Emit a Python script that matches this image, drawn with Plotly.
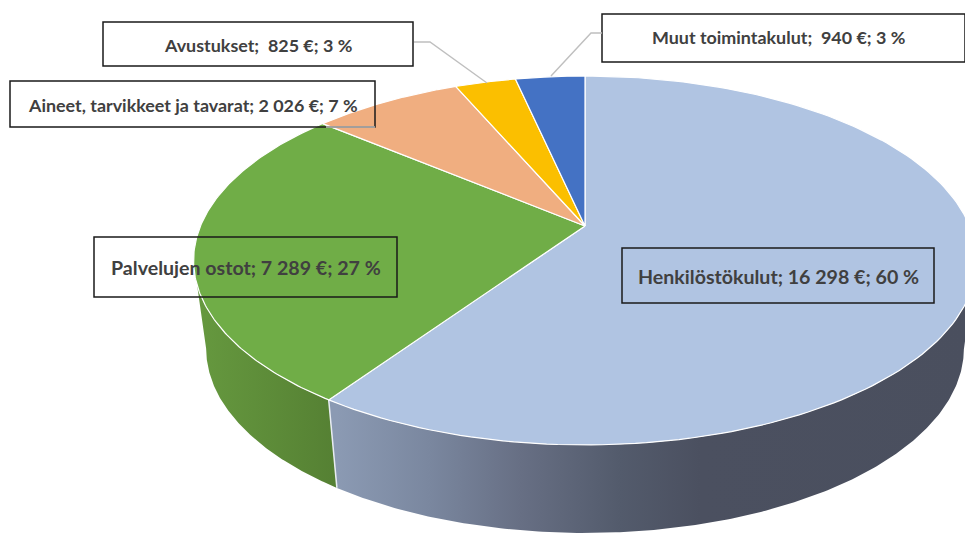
import numpy as np
import plotly.graph_objects as go

names = ["Henkilöstökulut", "Palvelujen ostot", "Aineet, tarvikkeet ja tavarat", "Avustukset", "Muut toimintakulut"]
values = [16298, 7289, 2026, 825, 940]
percents = [60, 27, 7, 3, 3]
colors = ["#B0C4E2", "#70AD47", "#F0AE80", "#FBBF00", "#4472C4"]
label_texts = [
    "Henkilöstökulut; 16 298 €; 60 %",
    "Palvelujen ostot; 7 289 €; 27 %",
    "Aineet, tarvikkeet ja tavarat; 2 026 €; 7 %",
    "Avustukset;\u00a0 825 €; 3 %",
    "Muut toimintakulut;\u00a0 940 €; 3 %",
]
label_sizes = [19.6, 19.6, 17.9, 17.9, 17.9]
# label boxes: x0, y0, x1, y1
boxes = [(622, 248, 934, 303), (94, 237, 397, 297), (10, 81, 375, 127), (103, 22, 413, 66), (602, 14, 965, 62)]
text_centers = [(778, 276), (246, 267), (193, 105), (258, 45), (778, 37)]
leaders = [None, None, [(375, 127), (326, 127)], [(414, 42), (430, 42), (487, 83)], [(602, 33), (591, 33), (551, 76)]]
side_stops = {
    0: ([337, 430, 520, 620, 700, 976], ["#8B9AB3", "#7A879F", "#676F84", "#535B6C", "#4B5060", "#4A4F5E"]),
    1: ([195, 337], ["#66993F", "#558033"]),
}

CX, CY, B, A, P = 585.0, 226.0, 384.5, 178.0, 0.187
DEPTH, SHRINK = 88.0, 0.968


def top(theta):
    u, v = np.sin(theta), np.cos(theta)
    d = 1 + P * v
    return CX + B * u / d, CY - A * v / d


def bottom(theta):
    x, y = top(theta)
    return CX + SHRINK * (x - CX), y + DEPTH


fractions = np.cumsum([0] + values) / sum(values)
angles = 2 * np.pi * fractions
fig = go.Figure()

# side walls, each one polygon with a horizontal gradient, trimmed at the silhouette
for i in (0, 1):
    a0, a1 = angles[i], angles[i + 1]
    ts = np.linspace(a0, a1, 400)
    xt, yt = top(ts)
    xb, yb = bottom(ts)
    if i == 0:  # Right silhouette: keep from the rightmost point onward
        k = int(np.argmax(xt))
        xt, yt, xb, yb = xt[k:], yt[k:], xb[k:], yb[k:]
    else:  # Left silhouette: keep up to the leftmost point
        k = int(np.argmin(xt)) + 1
        xt, yt, xb, yb = xt[:k], yt[:k], xb[:k], yb[:k]
    px = np.r_[xt, xb[::-1], xt[0]]
    py = np.r_[yt, yb[::-1], yt[0]]
    lo, hi = px.min(), px.max()
    sx, sc = side_stops[i]
    scale = [[0.0, sc[0]]]
    for x, c in zip(sx, sc):
        f = float(np.clip((x - lo) / (hi - lo), 0, 1))
        if f > scale[-1][0]:
            scale.append([f, c])
    if scale[-1][0] < 1:
        scale.append([1.0, sc[-1]])
    fig.add_trace(go.Scatter(x=px, y=py, mode="lines", fill="toself",
                             fillgradient=dict(type="horizontal", colorscale=scale),
                             line=dict(width=0), hoverinfo="skip", showlegend=False))

# pale seam between the two wall slices
xa, ya = top(angles[1]); xb, yb = bottom(angles[1])
fig.add_trace(go.Scatter(x=[xa, xb], y=[ya, yb], mode="lines", line=dict(color="#E8ECF2", width=1.5),
                         hoverinfo="skip", showlegend=False))

# top face slices
for i, name in enumerate(names):
    ts = np.linspace(angles[i], angles[i + 1], 160)
    xs, ys = top(ts)
    fig.add_trace(go.Scatter(x=[CX, *xs, CX], y=[CY, *ys, CY], mode="lines", fill="toself",
                             fillcolor=colors[i], line=dict(color="white", width=1.2),
                             name=name, hoverinfo="skip", showlegend=False))

shapes = []
for (x0, y0, x1, y1) in boxes:
    shapes.append(dict(type="rect", x0=x0, y0=y0, x1=x1, y1=y1, xref="x", yref="y",
                       line=dict(color="#1A1A1A", width=1.5), fillcolor="rgba(0,0,0,0)"))
for leader in leaders:
    if leader:
        path = "M " + " L ".join(f"{x} {y}" for x, y in leader)
        shapes.append(dict(type="path", path=path, xref="x", yref="y", line=dict(color="#BFBFBF", width=1.4)))

annotations = [dict(x=x, y=y, xref="x", yref="y", text=f"<b>{t}</b>", showarrow=False,
                    font=dict(family="Lato", size=s, color="#404040"),
                    xanchor="center", yanchor="middle")
               for t, s, (x, y) in zip(label_texts, label_sizes, text_centers)]

fig.update_layout(
    width=965, height=534, margin=dict(l=0, r=0, t=0, b=0),
    paper_bgcolor="white", plot_bgcolor="white", showlegend=False,
    xaxis=dict(range=[0, 965], visible=False, fixedrange=True),
    yaxis=dict(range=[534, 0], visible=False, fixedrange=True),
    shapes=shapes, annotations=annotations,
)
fig.write_html("out.html", config=dict(displayModeBar=False),
               post_script="document.body.style.margin='0';document.body.style.overflow='hidden';")
